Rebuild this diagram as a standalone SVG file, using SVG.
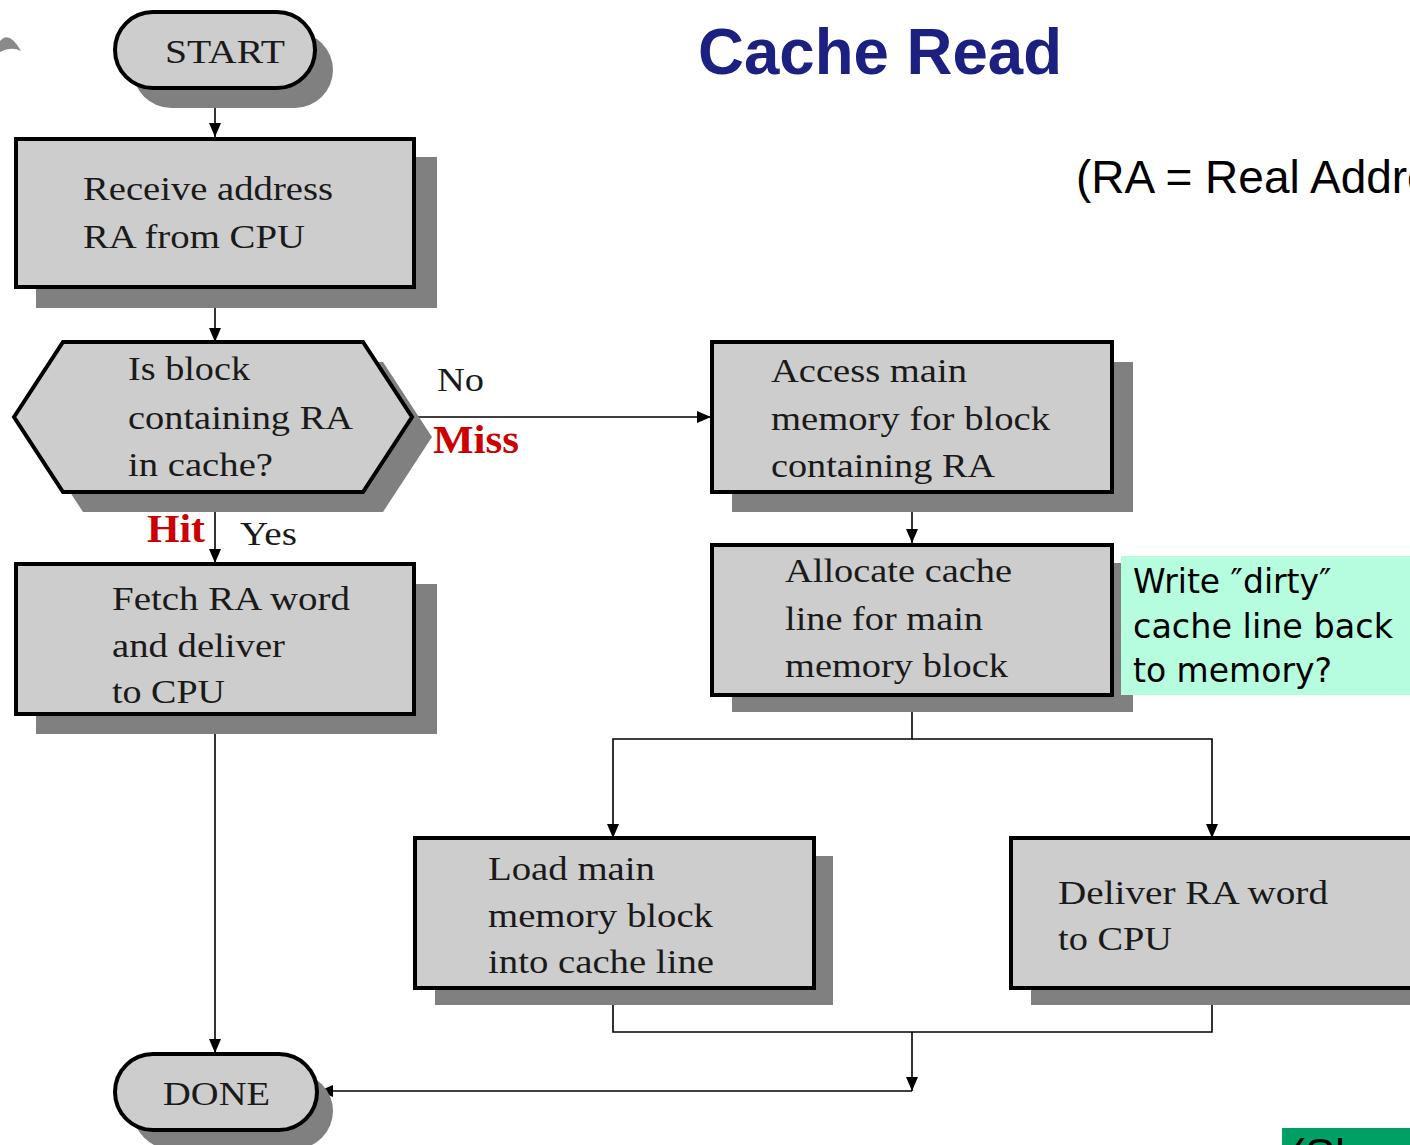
<svg xmlns="http://www.w3.org/2000/svg" width="1410" height="1145" viewBox="0 0 1410 1145">
<style>
.box{fill:#cdcdcd;stroke:#000;stroke-width:4}
.sh{fill:#808080;stroke:none}
.t{font-family:"Liberation Serif","Times New Roman",serif;font-size:34px;fill:#1a1a1a}
.red{font-family:"Liberation Serif","Times New Roman",serif;font-size:40px;font-weight:bold;fill:#cc0000}
.c{fill:none;stroke:#000;stroke-width:1.6}
.note{font-family:"DejaVu Sans","Verdana",sans-serif;font-size:33px;fill:#000}
</style>
<defs>
<marker id="ah" viewBox="0 0 14 12" refX="14" refY="6" markerWidth="14" markerHeight="12" markerUnits="userSpaceOnUse" orient="auto">
<path d="M0,0 L14,6 L0,12 Z" fill="#000"/>
</marker>
</defs>
<rect width="1410" height="1145" fill="#fff"/>
<path d="M0,41 Q9,30 21,51 Q11,46 0,52 Z" fill="#8a8a8a"/>
<text x="698" y="74" font-family="'Liberation Sans',Arial,sans-serif" font-size="64" font-weight="bold" fill="#1c2080" textLength="364" lengthAdjust="spacingAndGlyphs">Cache Read</text>
<text x="1076" y="193" font-family="'Liberation Sans',Arial,sans-serif" font-size="46" fill="#000">(RA = Real Address)</text>

<g id="connectors">
<path class="c" d="M215,88 V137" marker-end="url(#ah)"/>
<path class="c" d="M215,289 V342" marker-end="url(#ah)"/>
<path class="c" d="M412,417 H711" marker-end="url(#ah)"/>
<path class="c" d="M215,492 V563" marker-end="url(#ah)"/>
<path class="c" d="M215,714 V1053" marker-end="url(#ah)"/>
<path class="c" d="M912,493 V543" marker-end="url(#ah)"/>
<path class="c" d="M912,695 V739 H613 V838" marker-end="url(#ah)"/>
<path class="c" d="M912,739 H1212 V838" marker-end="url(#ah)"/>
<path class="c" d="M613,988 V1032 H1212 V988"/>
<path class="c" d="M912,1032 V1091" marker-end="url(#ah)"/>
<path class="c" d="M912,1091 H319" marker-end="url(#ah)"/>
</g>

<g id="start">
<rect class="sh" x="133" y="32" width="200" height="76" rx="38"/>
<rect class="box" x="115" y="12" width="200" height="76" rx="38"/>
<text class="t" x="165" y="63" font-size="38" textLength="120" lengthAdjust="spacingAndGlyphs">START</text>
</g>

<g id="receive">
<rect class="sh" x="36" y="157" width="401" height="151"/>
<rect class="box" x="16" y="139" width="398" height="148"/>
<text class="t" x="83" y="200" textLength="250" lengthAdjust="spacingAndGlyphs">Receive address</text>
<text class="t" x="83" y="248" textLength="222" lengthAdjust="spacingAndGlyphs">RA from CPU</text>
</g>

<g id="decision">
<path class="sh" d="M34,437 L83,362 L383,362 L432,437 L383,512 L83,512 Z"/>
<path class="box" d="M14,417 L63,342 L363,342 L412,417 L363,492 L63,492 Z"/>
<text class="t" x="128" y="380" textLength="122" lengthAdjust="spacingAndGlyphs">Is block</text>
<text class="t" x="128" y="429" textLength="225" lengthAdjust="spacingAndGlyphs">containing RA</text>
<text class="t" x="128" y="476" textLength="145" lengthAdjust="spacingAndGlyphs">in cache?</text>
</g>

<g id="labels">
<text class="t" x="437" y="391" font-size="32" textLength="47" lengthAdjust="spacingAndGlyphs">No</text>
<text class="red" x="433" y="453" textLength="86" lengthAdjust="spacingAndGlyphs">Miss</text>
<text class="red" x="147" y="542" textLength="58" lengthAdjust="spacingAndGlyphs">Hit</text>
<text class="t" x="240" y="545" font-size="32" textLength="57" lengthAdjust="spacingAndGlyphs">Yes</text>
</g>

<g id="fetch">
<rect class="sh" x="36" y="584" width="401" height="150"/>
<rect class="box" x="16" y="564" width="398" height="150"/>
<text class="t" x="112" y="610" textLength="238" lengthAdjust="spacingAndGlyphs">Fetch RA word</text>
<text class="t" x="112" y="657" textLength="173" lengthAdjust="spacingAndGlyphs">and deliver</text>
<text class="t" x="112" y="703" textLength="113" lengthAdjust="spacingAndGlyphs">to CPU</text>
</g>

<g id="access">
<rect class="sh" x="732" y="362" width="401" height="150"/>
<rect class="box" x="712" y="342" width="400" height="150"/>
<text class="t" x="771" y="382" textLength="196" lengthAdjust="spacingAndGlyphs">Access main</text>
<text class="t" x="771" y="430" textLength="279" lengthAdjust="spacingAndGlyphs">memory for block</text>
<text class="t" x="771" y="477" textLength="224" lengthAdjust="spacingAndGlyphs">containing RA</text>
</g>

<g id="allocate">
<rect class="sh" x="732" y="563" width="401" height="149"/>
<rect class="box" x="712" y="545" width="400" height="150"/>
<text class="t" x="785" y="582" textLength="227" lengthAdjust="spacingAndGlyphs">Allocate cache</text>
<text class="t" x="785" y="630" textLength="198" lengthAdjust="spacingAndGlyphs">line for main</text>
<text class="t" x="785" y="677" textLength="223" lengthAdjust="spacingAndGlyphs">memory block</text>
</g>

<g id="note">
<rect x="1121" y="556" width="289" height="139" fill="#b6fde0"/>
<text class="note" x="1133" y="593">Write ″dirty″</text>
<text class="note" x="1133" y="638" textLength="260" lengthAdjust="spacingAndGlyphs">cache line back</text>
<text class="note" x="1133" y="682">to memory?</text>
</g>

<g id="load">
<rect class="sh" x="435" y="856" width="398" height="149"/>
<rect class="box" x="415" y="838" width="399" height="150"/>
<text class="t" x="488" y="880" textLength="167" lengthAdjust="spacingAndGlyphs">Load main</text>
<text class="t" x="488" y="927" textLength="225" lengthAdjust="spacingAndGlyphs">memory block</text>
<text class="t" x="488" y="973" textLength="226" lengthAdjust="spacingAndGlyphs">into cache line</text>
</g>

<g id="deliver">
<rect class="sh" x="1031" y="856" width="400" height="149"/>
<rect class="box" x="1011" y="838" width="420" height="150"/>
<text class="t" x="1058" y="904" textLength="270" lengthAdjust="spacingAndGlyphs">Deliver RA word</text>
<text class="t" x="1058" y="950" textLength="114" lengthAdjust="spacingAndGlyphs">to CPU</text>
</g>

<g id="done">
<rect class="sh" x="133" y="1073" width="200" height="76" rx="38"/>
<rect class="box" x="115" y="1054" width="202" height="76" rx="38"/>
<text class="t" x="163" y="1105" font-size="38" textLength="107" lengthAdjust="spacingAndGlyphs">DONE</text>
</g>

<g id="source">
<rect x="1282" y="1128" width="128" height="17" fill="#00a065"/>
<text x="1290" y="1170" font-family="'Liberation Sans',Arial,sans-serif" font-size="45" fill="#000">(Sl</text>
</g>
</svg>
